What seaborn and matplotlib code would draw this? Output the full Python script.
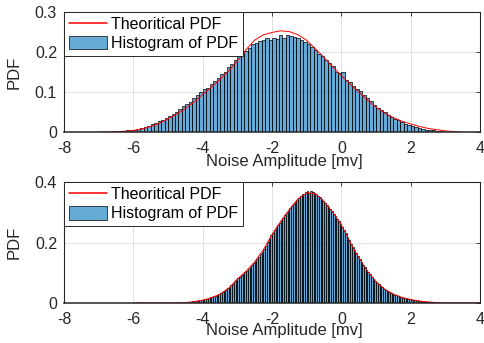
import numpy as np
import pandas as pd
import matplotlib
matplotlib.use("Agg")
import matplotlib.pyplot as plt
import seaborn as sns

# ---------------- data ----------------
top_bin_start = -7.0
top_bin_width = 0.1
top_hist = [
    0.0005, 0.0007, 0.001, 0.001, 0.0015,
    0.002, 0.002, 0.003, 0.004, 0.005,
    0.006, 0.008, 0.010, 0.012, 0.015,
    0.019, 0.023, 0.027, 0.031, 0.036,
    0.041, 0.046, 0.051, 0.057, 0.064,
    0.070, 0.076, 0.084, 0.092, 0.099,
    0.107, 0.110, 0.120, 0.128, 0.136,
    0.144, 0.151, 0.163, 0.170, 0.180,
    0.189, 0.194, 0.203, 0.210, 0.219,
    0.222, 0.228, 0.231, 0.234, 0.229,
    0.236, 0.233, 0.243, 0.236, 0.242,
    0.239, 0.237, 0.236, 0.229, 0.226,
    0.220, 0.212, 0.206, 0.196, 0.189,
    0.181, 0.172, 0.164, 0.151, 0.147,
    0.150, 0.130, 0.124, 0.116, 0.108,
    0.102, 0.093, 0.086, 0.078, 0.067,
    0.061, 0.056, 0.049, 0.043, 0.038,
    0.033, 0.029, 0.025, 0.021, 0.018,
    0.015, 0.012, 0.010, 0.008, 0.006,
    0.005, 0.004, 0.003, 0.002, 0.001,
]
top_pdf_x = [-7.0, -6.75, -6.5, -6.25, -6.0, -5.75, -5.5, -5.25, -5.0, -4.75,
             -4.5, -4.25, -4.0, -3.75, -3.5, -3.25, -3.0, -2.75, -2.5, -2.25,
             -2.0, -1.75, -1.5, -1.25, -1.0, -0.75, -0.5, -0.25, 0.0, 0.25,
             0.5, 0.75, 1.0, 1.25, 1.5, 1.75, 2.0, 2.25, 2.5, 2.75,
             3.0, 3.25, 3.5]
top_pdf_y = [0.000, 0.000, 0.001, 0.002, 0.004, 0.008, 0.014, 0.022, 0.033, 0.045,
             0.059, 0.075, 0.094, 0.112, 0.132, 0.153, 0.178, 0.206, 0.230, 0.243,
             0.249, 0.253, 0.251, 0.243, 0.229, 0.208, 0.186, 0.163, 0.141, 0.120,
             0.100, 0.080, 0.062, 0.047, 0.036, 0.027, 0.020, 0.014, 0.009, 0.006,
             0.003, 0.001, 0.000]

bot_bin_start = -4.5
bot_bin_width = 0.05
bot_hist = [
    0.002, 0.003, 0.003, 0.004, 0.005,
    0.005, 0.006, 0.007, 0.009, 0.010,
    0.011, 0.012, 0.014, 0.016, 0.018,
    0.019, 0.022, 0.024, 0.027, 0.029,
    0.032, 0.036, 0.040, 0.044, 0.048,
    0.052, 0.058, 0.064, 0.071, 0.077,
    0.082, 0.086, 0.092, 0.097, 0.102,
    0.107, 0.113, 0.118, 0.125, 0.131,
    0.138, 0.146, 0.153, 0.161, 0.170,
    0.178, 0.189, 0.201, 0.212, 0.224,
    0.233, 0.241, 0.250, 0.258, 0.266,
    0.274, 0.282, 0.290, 0.298, 0.306,
    0.313, 0.321, 0.328, 0.334, 0.341,
    0.347, 0.353, 0.360, 0.362, 0.366,
    0.369, 0.364, 0.370, 0.366, 0.363,
    0.360, 0.355, 0.350, 0.344, 0.338,
    0.331, 0.324, 0.318, 0.311, 0.303,
    0.295, 0.287, 0.278, 0.270, 0.262,
    0.252, 0.241, 0.230, 0.219, 0.207,
    0.196, 0.186, 0.176, 0.165, 0.155,
    0.146, 0.137, 0.127, 0.118, 0.109,
    0.101, 0.094, 0.087, 0.080, 0.073,
    0.067, 0.062, 0.057, 0.052, 0.047,
    0.043, 0.040, 0.036, 0.033, 0.030,
    0.027, 0.025, 0.023, 0.021, 0.019,
    0.017, 0.016, 0.014, 0.013, 0.012,
    0.011, 0.010, 0.009, 0.008, 0.007,
    0.006, 0.005, 0.005, 0.004, 0.004,
    0.003, 0.003, 0.002, 0.002, 0.002,
    0.0015, 0.001, 0.001, 0.001, 0.0005,
]
bot_pdf_x = [-6.0, -5.5, -5.0, -4.75, -4.5, -4.25, -4.0, -3.75, -3.5, -3.25,
             -3.0, -2.75, -2.5, -2.25, -2.0, -1.75, -1.5, -1.25, -1.0, -0.75,
             -0.5, -0.25, 0.0, 0.25, 0.5, 0.75, 1.0, 1.25, 1.5, 1.75,
             2.0, 2.25, 2.5, 2.75, 3.0, 3.5, 4.0]
bot_pdf_y = [0.0, 0.0, 0.0, 0.0, 0.001, 0.004, 0.009, 0.017, 0.029, 0.049,
             0.079, 0.105, 0.136, 0.176, 0.227, 0.270, 0.310, 0.345, 0.364, 0.362,
             0.336, 0.300, 0.258, 0.201, 0.150, 0.105, 0.070, 0.045, 0.029, 0.018,
             0.011, 0.006, 0.003, 0.001, 0.0, 0.0, 0.0]

x_ticks = [-8, -6, -4, -2, 0, 2, 4]
x_tick_labels = ["-8", "-6", "-4", "-2", "0", "2", "4"]
top_y_ticks = [0, 0.1, 0.2, 0.3]
top_y_tick_labels = ["0", "0.1", "0.2", "0.3"]
bot_y_ticks = [0, 0.2, 0.4]
bot_y_tick_labels = ["0", "0.2", "0.4"]
legend_labels = ["Theoritical PDF", "Histogram of PDF"]
x_label = "Noise Amplitude [mv]"
y_label = "PDF"

# ---------------- style ----------------
sns.set_theme(style="white")
plt.rcParams["font.family"] = ["Liberation Sans", "DejaVu Sans"]

TXT = "#262626"
BLUE = (0.0, 0.447, 0.741)

fig = plt.figure(figsize=(4.85, 3.43), dpi=100)
ax1 = fig.add_axes([0.132, 0.615, 0.858, 0.350])
ax2 = fig.add_axes([0.132, 0.117, 0.858, 0.352])


def draw(ax, start, width, heights, px, py, yticks, ylabels, ylim, xlab_y):
    n = len(heights)
    edges = start + width * np.arange(n + 1)
    centers = edges[:-1] + width / 2
    hist_df = pd.DataFrame({"center": centers, "height": heights})
    pdf_df = pd.DataFrame({"x": px, "y": py})
    sns.lineplot(data=pdf_df, x="x", y="y", ax=ax, color="red",
                 linewidth=0.7, estimator=None, sort=False)
    sns.histplot(data=hist_df, x="center", weights="height",
                 bins=[float(e) for e in edges],
                 ax=ax, color=BLUE, edgecolor="black", linewidth=0.5,
                 alpha=0.6)
    for p in ax.patches:
        p.set_alpha(None)
        p.set_facecolor((*BLUE, 0.6))
        p.set_edgecolor((0, 0, 0, 1))
    ax.set_xlim(-8, 4)
    ax.set_ylim(*ylim)
    ax.set_xticks(x_ticks)
    ax.set_xticklabels(x_tick_labels)
    ax.set_yticks(yticks)
    ax.set_yticklabels(ylabels)
    ax.grid(True, color="#dcdcdc", linewidth=0.6)
    ax.set_axisbelow(True)
    ax.tick_params(axis="both", direction="in", length=3, width=0.6,
                   top=True, right=True, colors=TXT, labelsize=11.5)
    ax.tick_params(axis="x", pad=6.5)
    ax.tick_params(axis="y", pad=5)
    for s in ax.spines.values():
        s.set_visible(True)
        s.set_color(TXT)
        s.set_linewidth(0.8)
        s.set_zorder(5)
    ax.spines["bottom"].set_linewidth(1.1)
    ax.set_xlabel(x_label, fontsize=12, color=TXT)
    ax.set_ylabel(y_label, fontsize=12, color=TXT)
    ax.xaxis.set_label_coords(0.529, xlab_y)
    ax.xaxis.label.set_va("baseline")
    ax.yaxis.set_label_coords(-0.101, 0.5)
    handles = [ax.lines[0], ax.patches[0]]
    leg = ax.legend(handles, legend_labels, loc="upper left",
                    bbox_to_anchor=(0, 1), borderaxespad=0, frameon=True,
                    fancybox=False, framealpha=1, edgecolor=TXT,
                    fontsize=11.5, handlelength=2.4, handleheight=0.95,
                    borderpad=0.3, labelspacing=0.22, handletextpad=0.25)
    leg.get_frame().set_linewidth(0.7)
    leg.legend_handles[0].set_linewidth(1.1)
    leg.legend_handles[0].set_color("red")
    leg.set_zorder(10)
    for t in leg.get_texts():
        t.set_color("black")


draw(ax1, top_bin_start, top_bin_width, top_hist, top_pdf_x, top_pdf_y,
     top_y_ticks, top_y_tick_labels, (0, 0.3), -0.283)
draw(ax2, bot_bin_start, bot_bin_width, bot_hist, bot_pdf_x, bot_pdf_y,
     bot_y_ticks, bot_y_tick_labels, (0, 0.4), -0.264)

fig.savefig("out.png", dpi=100)
